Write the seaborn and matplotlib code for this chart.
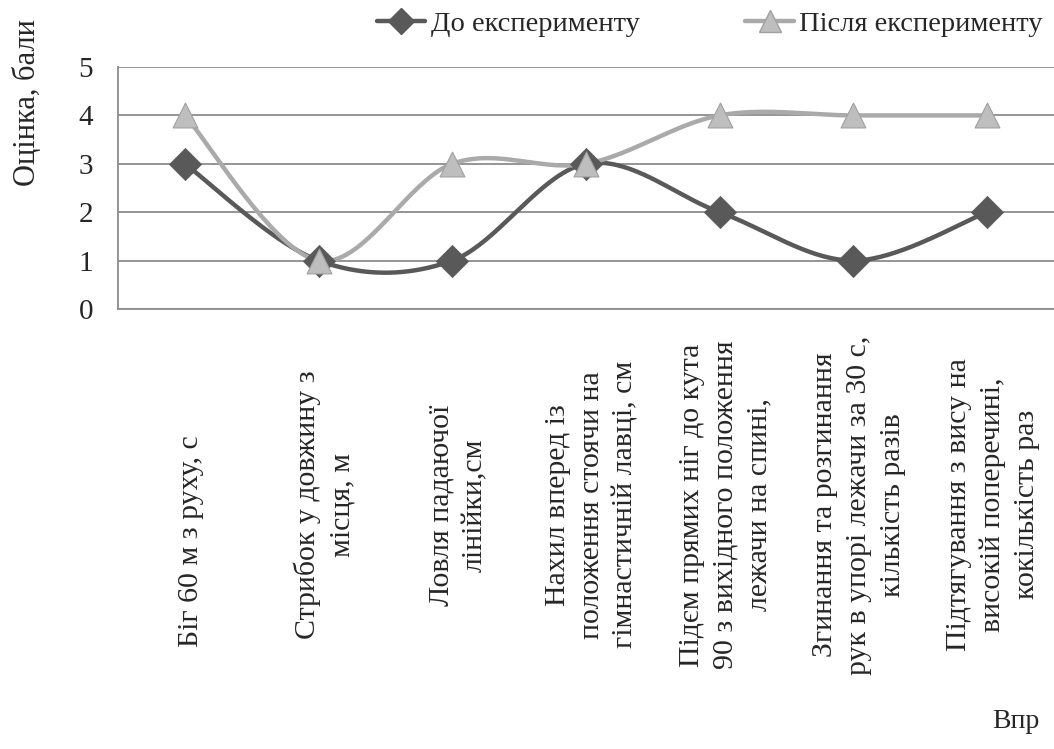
import numpy as np
import pandas as pd
import matplotlib
matplotlib.use("Agg")
import matplotlib.pyplot as plt
import matplotlib.transforms as mtransforms
from matplotlib.lines import Line2D
import seaborn as sns

# Exercise names (x categories) and scores for both test sessions
exercises = [
    "Біг 60 м з руху, с",
    "Стрибок у довжину з\nмісця, м",
    "Ловля падаючої\nлінійки,см",
    "Нахил вперед із\nположення стоячи на\nгімнастичній лавці, см",
    "Підєм прямих ніг до кута\n90 з вихідного положення\nлежачи на спині,",
    "Згинання та розгинання\nрук в упорі лежачи за 30 с,\nкількість разів",
    "Підтягування з вису на\nвисокій поперечині,\nкокількість раз",
]
before_scores = [3, 1, 1, 3, 2, 1, 2]
after_scores = [4, 1, 3, 3, 4, 4, 4]
series_names = ["До експерименту", "Після експерименту"]

sns.set_theme(style="white")
plt.rcParams["font.family"] = ["Liberation Serif", "DejaVu Serif"]

DARK = "#595959"
LIGHT = "#AAAAAA"
LIGHT_FACE = "#BEBEBE"
LIGHT_EDGE = "#A0A0A0"
GRID = "#8C8C8C"


def smooth(values, n=40):
    """Catmull-Rom style Bezier smoothing through the given points."""
    y = np.asarray(values, dtype=float)
    x = np.arange(len(y), dtype=float)
    pts = np.column_stack([x, y])
    padded = np.vstack([pts[0], pts, pts[-1]])
    xs, ys = [], []
    for i in range(len(pts) - 1):
        p0, p1, p2, p3 = padded[i], padded[i + 1], padded[i + 2], padded[i + 3]
        c1 = p1 + (p2 - p0) / 6.0
        c2 = p2 - (p3 - p1) / 6.0
        t = np.linspace(0, 1, n, endpoint=(i == len(pts) - 2))[:, None]
        b = ((1 - t) ** 3) * p1 + 3 * ((1 - t) ** 2) * t * c1 + 3 * (1 - t) * t ** 2 * c2 + t ** 3 * p2
        xs.append(b[:, 0])
        ys.append(b[:, 1])
    return np.concatenate(xs), np.concatenate(ys)


curves = []
for name, vals in zip(series_names, [before_scores, after_scores]):
    cx, cy = smooth(vals)
    curves.append(pd.DataFrame({"x": cx, "y": cy, "series": name}))
curve_df = pd.concat(curves, ignore_index=True)

points_df = pd.DataFrame({
    "x": list(range(len(exercises))) * 2,
    "y": before_scores + after_scores,
    "series": [series_names[0]] * len(exercises) + [series_names[1]] * len(exercises),
})

fig = plt.figure(figsize=(10.54, 7.49), dpi=100)
ax = fig.add_axes([118 / 1054, 1 - 309 / 749, 1 - 118 / 1054, (309 - 67) / 749])

palette = {series_names[0]: DARK, series_names[1]: LIGHT}

# horizontal grid under the curves
for v in range(0, 6):
    ax.axhline(v, color=GRID, lw=1.3, zorder=0)

sns.lineplot(data=curve_df, x="x", y="y", hue="series", palette=palette,
             sort=False, estimator=None, lw=3.2, legend=False, ax=ax, zorder=2)

before_pts = points_df[points_df["series"] == series_names[0]]
after_pts = points_df[points_df["series"] == series_names[1]]
sns.scatterplot(data=before_pts, x="x", y="y", marker="D", s=270, color=DARK,
                edgecolor=DARK, linewidth=0.5, legend=False, ax=ax, zorder=3)
sns.scatterplot(data=after_pts, x="x", y="y", marker="^", s=320, color=LIGHT_FACE,
                edgecolor=LIGHT_EDGE, linewidth=0.8, legend=False, ax=ax, zorder=4)

ax.set_xlim(-0.5, len(exercises) - 0.5)
ax.set_ylim(0, 5)
ax.set_yticks(range(0, 6))
ax.set_yticklabels([str(v) for v in range(0, 6)], fontsize=21)
ax.tick_params(axis="y", length=0, pad=18)

ax.set_xticks(range(len(exercises)))
ax.set_xticklabels(exercises, rotation=90, fontsize=21.5, ha="center", va="center",
                   multialignment="center", linespacing=1.4)
ax.tick_params(axis="x", length=0, pad=141)
# nudge category labels slightly right; the single-line first label sits lower
for i, lab in enumerate(ax.get_xticklabels()):
    dy = -36 / 100 if i == 0 else 0
    lab.set_transform(lab.get_transform() +
                      mtransforms.ScaledTranslation(6 / 100, dy, fig.dpi_scale_trans))

ax.set_xlabel("")
ax.set_ylabel("")
for side in ["top", "right"]:
    ax.spines[side].set_visible(False)
ax.spines["left"].set_color(GRID)
ax.spines["left"].set_linewidth(1.3)
ax.spines["bottom"].set_color(GRID)
ax.spines["bottom"].set_linewidth(1.3)

fig.text(28 / 1054, 1 - 103 / 749, "Оцінка, бали", rotation=90, fontsize=22,
         ha="center", va="center")
fig.text(1040 / 1054, 1 - 722 / 749, "Впр", fontsize=20, ha="right", va="center")

handles = [
    Line2D([], [], color=DARK, lw=3.2, marker="D", markersize=13,
           markerfacecolor=DARK, markeredgecolor=DARK),
    Line2D([], [], color=LIGHT, lw=3.2, marker="^", markersize=16,
           markerfacecolor=LIGHT_FACE, markeredgecolor=LIGHT_EDGE),
]
fig.legend(handles, series_names, loc="center", bbox_to_anchor=(710 / 1054, 1 - 24 / 749),
           ncol=2, frameon=False, fontsize=20.5, handlelength=1.7, handletextpad=0.2,
           columnspacing=3.7)

fig.savefig("out.png", dpi=100)
